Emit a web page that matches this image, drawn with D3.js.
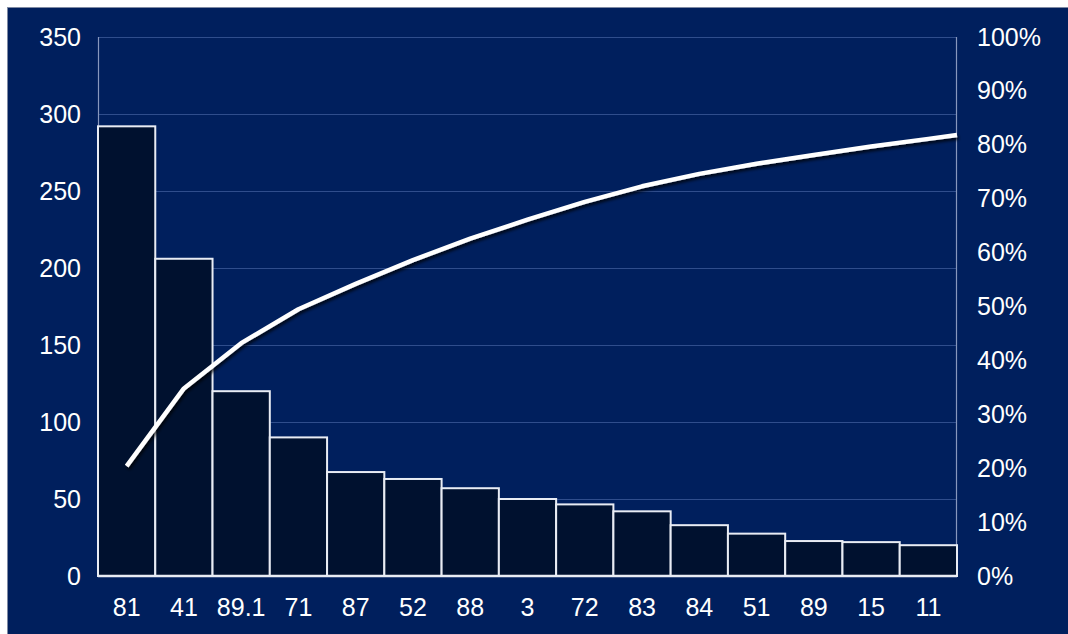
<!DOCTYPE html>
<html>
<head>
<meta charset="utf-8">
<script src="https://cdn.jsdelivr.net/npm/d3@7"></script>
<style>
  html, body { margin: 0; padding: 0; background: #ffffff; }
  svg { display: block; }
  text { font-family: "Liberation Sans", Arial, sans-serif; fill: #ffffff; }
</style>
</head>
<body>
<svg id="chart" width="1068" height="634"></svg>
<script>
// Pareto data: categories, counts and cumulative share (%)
const categories = ["81", "41", "89.1", "71", "87", "52", "88", "3", "72", "83", "84", "51", "89", "15", "11"];
const counts = [292, 206, 120, 90, 67.5, 63, 57, 50, 46.5, 42, 33, 27.5, 22.7, 22, 20];
const cumulativePct = [20.4, 34.8, 43.2, 49.5, 54.2, 58.6, 62.6, 66.1, 69.4, 72.3, 74.6, 76.5, 78.1, 79.7, 81.1];
const countTicks = [0, 50, 100, 150, 200, 250, 300, 350];
const pctTicks = [0, 10, 20, 30, 40, 50, 60, 70, 80, 90, 100];

const W = 1068, H = 634;
const margin = { left: 98, right: 111, top: 37, bottom: 58 };
const plotW = W - margin.left - margin.right;
const plotH = H - margin.top - margin.bottom;

const svg = d3.select("#chart");

const defs = svg.append("defs");
const shadow = defs.append("filter").attr("id", "lineShadow")
  .attr("x", "-5%").attr("y", "-20%").attr("width", "110%").attr("height", "140%");
shadow.append("feDropShadow").attr("dx", 1.5).attr("dy", 2.5).attr("stdDeviation", 1.6)
  .attr("flood-color", "#000000").attr("flood-opacity", 0.75);

// Panel background
svg.append("rect").attr("x", 7).attr("y", 7).attr("width", W - 7).attr("height", H - 7)
  .attr("fill", "#001f5d");
svg.append("line").attr("x1", 7).attr("x2", W).attr("y1", 7.5).attr("y2", 7.5)
  .attr("stroke", "#7f8aa3").attr("stroke-width", 1);
svg.append("line").attr("x1", 7.5).attr("x2", 7.5).attr("y1", 7).attr("y2", H)
  .attr("stroke", "#7f8aa3").attr("stroke-width", 1);

const g = svg.append("g").attr("transform", `translate(${margin.left},${margin.top})`);

const x = d3.scaleBand().domain(categories).range([0, plotW]).padding(0);
const y = d3.scaleLinear().domain([0, 350]).range([plotH, 0]);
const yPct = d3.scaleLinear().domain([0, 100]).range([plotH, 0]);

// Horizontal gridlines
g.append("g").selectAll("line").data(countTicks.filter(d => d > 0)).join("line")
  .attr("x1", 0).attr("x2", plotW)
  .attr("y1", d => Math.round(y(d)) + 0.5).attr("y2", d => Math.round(y(d)) + 0.5)
  .attr("stroke", "#2f4d8c").attr("stroke-width", 1);

// Vertical axis lines
g.append("line").attr("x1", 0.5).attr("x2", 0.5).attr("y1", 0).attr("y2", plotH)
  .attr("stroke", "#8797bd").attr("stroke-width", 1.2);
g.append("line").attr("x1", plotW - 0.5).attr("x2", plotW - 0.5).attr("y1", 0).attr("y2", plotH)
  .attr("stroke", "#8797bd").attr("stroke-width", 1.2);

// Bars
g.append("g").selectAll("rect").data(counts).join("rect")
  .attr("x", (d, i) => x(categories[i]))
  .attr("y", d => y(d))
  .attr("width", x.bandwidth())
  .attr("height", d => plotH - y(d))
  .attr("fill", "#00112f")
  .attr("stroke", "#e8ecf4")
  .attr("stroke-width", 2);

// Baseline
g.append("line").attr("x1", 0).attr("x2", plotW).attr("y1", plotH).attr("y2", plotH)
  .attr("stroke", "#e8ecf4").attr("stroke-width", 2.5);

// Left axis (counts)
const yAxis = d3.axisLeft(y).tickValues(countTicks).tickSize(0).tickPadding(17);
const gy = g.append("g").call(yAxis);
gy.select(".domain").remove();
gy.selectAll("text").attr("font-size", 25).attr("fill", "#ffffff")
  .style("font-family", "'Liberation Sans', Arial, sans-serif");

// Right axis (cumulative %)
const yRAxis = d3.axisRight(yPct).tickValues(pctTicks).tickSize(0).tickPadding(20)
  .tickFormat(d => d + "%");
const gyr = g.append("g").attr("transform", `translate(${plotW},0)`).call(yRAxis);
gyr.select(".domain").remove();
gyr.selectAll("text").attr("font-size", 25).attr("fill", "#ffffff")
  .style("font-family", "'Liberation Sans', Arial, sans-serif");

// Bottom axis (categories)
const xAxis = d3.axisBottom(x).tickSize(0).tickPadding(22);
const gx = g.append("g").attr("transform", `translate(0,${plotH})`).call(xAxis);
gx.select(".domain").remove();
gx.selectAll("text").attr("font-size", 25).attr("fill", "#ffffff")
  .style("font-family", "'Liberation Sans', Arial, sans-serif");

// Cumulative line, points at bar centres, carried on to the right edge of the plot
const pts = cumulativePct.map((v, i) => [x(categories[i]) + x.bandwidth() / 2, yPct(v)]);
const n = pts.length;
const slope = (pts[n - 1][1] - pts[n - 2][1]) / (pts[n - 1][0] - pts[n - 2][0]);
const endX = plotW;
pts.push([endX, pts[n - 1][1] + slope * (endX - pts[n - 1][0])]);

g.append("path").datum(pts)
  .attr("d", d3.line())
  .attr("fill", "none")
  .attr("stroke", "#ffffff")
  .attr("stroke-width", 4.5)
  .attr("stroke-linejoin", "round")
  .attr("filter", "url(#lineShadow)");
</script>
</body>
</html>
